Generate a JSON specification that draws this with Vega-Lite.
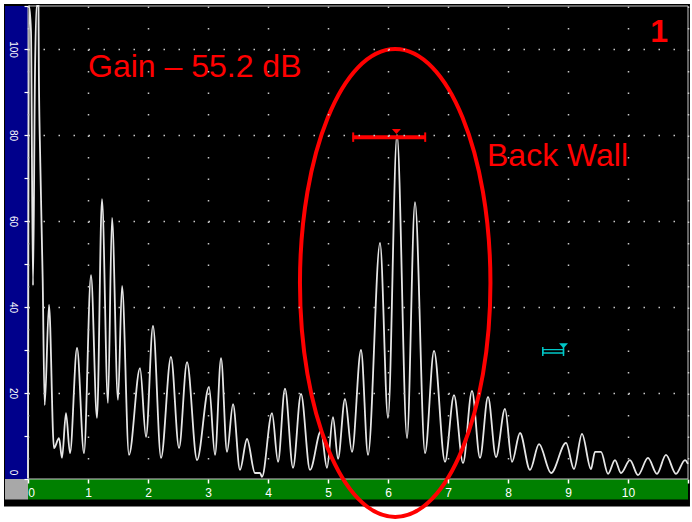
{
  "$schema": "https://vega.github.io/schema/vega-lite/v6.json",
  "width": 660,
  "height": 473,
  "autosize": {"type": "none"},
  "padding": {"left": 28, "top": 6, "right": 4, "bottom": 43},
  "background": "#ffffff",
  "config": {"view": {"stroke": null}},
  "data": {"values": [{}]},
  "datasets": {
    "ascan": [
      {"t": 0, "amp": 0.2}, {"t": 0.017, "amp": 110}, {"t": 0.05, "amp": 104}, {"t": 0.083, "amp": 45},
      {"t": 0.117, "amp": 95}, {"t": 0.142, "amp": 110}, {"t": 0.175, "amp": 110}, {"t": 0.18, "amp": 96.7},
      {"t": 0.205, "amp": 73.5}, {"t": 0.245, "amp": 46.3}, {"t": 0.278, "amp": 17.2}, {"t": 0.35, "amp": 40.5},
      {"t": 0.433, "amp": 7.2}, {"t": 0.517, "amp": 9.5}, {"t": 0.567, "amp": 4.9}, {"t": 0.633, "amp": 15.3},
      {"t": 0.7, "amp": 6}, {"t": 0.817, "amp": 30.5}, {"t": 0.933, "amp": 6}, {"t": 1.05, "amp": 47.4},
      {"t": 1.15, "amp": 14.2}, {"t": 1.233, "amp": 65.1}, {"t": 1.333, "amp": 17.7}, {"t": 1.4, "amp": 60.7},
      {"t": 1.5, "amp": 18.4}, {"t": 1.567, "amp": 44.9}, {"t": 1.683, "amp": 5.6}, {"t": 1.867, "amp": 25.8},
      {"t": 1.967, "amp": 9.8}, {"t": 2.083, "amp": 35.6}, {"t": 2.217, "amp": 4.9}, {"t": 2.383, "amp": 28.4},
      {"t": 2.517, "amp": 7.2}, {"t": 2.65, "amp": 27.2}, {"t": 2.817, "amp": 4.4}, {"t": 3.017, "amp": 21.4},
      {"t": 3.117, "amp": 5.6}, {"t": 3.217, "amp": 28.1}, {"t": 3.317, "amp": 6.3}, {"t": 3.417, "amp": 17.4},
      {"t": 3.533, "amp": 2.1}, {"t": 3.65, "amp": 9.3}, {"t": 3.783, "amp": 1.4}, {"t": 3.867, "amp": 1.4},
      {"t": 3.9, "amp": 0.5}, {"t": 4.067, "amp": 15.3}, {"t": 4.167, "amp": 4}, {"t": 4.283, "amp": 21},
      {"t": 4.417, "amp": 2.6}, {"t": 4.55, "amp": 19.8}, {"t": 4.7, "amp": 2.1}, {"t": 4.883, "amp": 11.2},
      {"t": 4.983, "amp": 2.6}, {"t": 5.083, "amp": 14.4}, {"t": 5.167, "amp": 4.7}, {"t": 5.283, "amp": 18.6},
      {"t": 5.4, "amp": 6.3}, {"t": 5.55, "amp": 30}, {"t": 5.667, "amp": 5.6}, {"t": 5.867, "amp": 54.9},
      {"t": 6.0, "amp": 14.2}, {"t": 6.15, "amp": 80}, {"t": 6.317, "amp": 9.5}, {"t": 6.45, "amp": 64.4},
      {"t": 6.617, "amp": 6}, {"t": 6.767, "amp": 29.8}, {"t": 6.95, "amp": 4}, {"t": 7.1, "amp": 19.5},
      {"t": 7.25, "amp": 3.7}, {"t": 7.4, "amp": 20.5}, {"t": 7.533, "amp": 4.9}, {"t": 7.667, "amp": 19.1},
      {"t": 7.8, "amp": 5.1}, {"t": 7.95, "amp": 16.3}, {"t": 8.067, "amp": 4}, {"t": 8.2, "amp": 10.7},
      {"t": 8.367, "amp": 2.1}, {"t": 8.517, "amp": 8.1}, {"t": 8.717, "amp": 1.4}, {"t": 8.967, "amp": 8.4},
      {"t": 9.1, "amp": 2.3}, {"t": 9.233, "amp": 10.5}, {"t": 9.383, "amp": 2.3}, {"t": 9.45, "amp": 6.3},
      {"t": 9.55, "amp": 6.3}, {"t": 9.667, "amp": 1.2}, {"t": 9.783, "amp": 4.4}, {"t": 9.883, "amp": 1.4},
      {"t": 10.033, "amp": 4.4}, {"t": 10.167, "amp": 0.9}, {"t": 10.333, "amp": 4.9}, {"t": 10.483, "amp": 1.2},
      {"t": 10.633, "amp": 5.6}, {"t": 10.8, "amp": 1.2}, {"t": 10.95, "amp": 4.4}, {"t": 11.0, "amp": 3.5}
    ]
  },
  "layer": [
    {
      "mark": {"type": "rect", "color": "#000000"},
      "encoding": {"x": {"datum": -0.4}, "x2": {"datum": 11.033}, "y": {"datum": -6.4}, "y2": {"datum": 110.47}}
    },
    {
      "mark": {"type": "rect", "color": "#00008b"},
      "encoding": {"x": {"datum": -0.383}, "x2": {"datum": 0}, "y": {"datum": 0}, "y2": {"datum": 110}}
    },
    {
      "mark": {"type": "rect", "color": "#008000"},
      "encoding": {"x": {"datum": 0}, "x2": {"datum": 11}, "y": {"datum": -4.77}, "y2": {"datum": 0}}
    },
    {
      "mark": {"type": "rect", "color": "#a8a8a8"},
      "encoding": {"x": {"datum": -0.383}, "x2": {"datum": 0}, "y": {"datum": -4.77}, "y2": {"datum": 0}}
    },
    {
      "mark": {"type": "rect", "filled": false, "color": "#c8c8c8", "strokeWidth": 1},
      "encoding": {"x": {"datum": 0}, "x2": {"datum": 11}, "y": {"datum": 0}, "y2": {"datum": 110}}
    },
    {
      "data": {"name": "ascan"},
      "mark": {"type": "line", "color": "#e6e6e6", "strokeWidth": 1.8, "interpolate": "monotone"},
      "encoding": {
        "x": {
          "field": "t", "type": "quantitative",
          "scale": {"domain": [0, 11], "nice": false, "zero": false},
          "axis": {
            "title": null, "domain": false, "zindex": 1,
            "values": [0,0.25,0.5,0.75,1,1.25,1.5,1.75,2,2.25,2.5,2.75,3,3.25,3.5,3.75,4,4.25,4.5,4.75,5,5.25,5.5,5.75,6,6.25,6.5,6.75,7,7.25,7.5,7.75,8,8.25,8.5,8.75,9,9.25,9.5,9.75,10,10.25,10.5,10.75,11],
            "grid": true, "gridColor": "#c8c8c8", "gridWidth": 1.5, "gridDash": [1.5, 20],
            "gridOpacity": {"condition": {"test": "datum.value % 1 === 0", "value": 1}, "value": 0},
            "tickColor": "#ffffff", "tickSize": 4, "tickWidth": 1.5,
            "labelExpr": "datum.value % 1 === 0 && datum.value < 11 ? format(datum.value, 'd') : ''",
            "labelColor": "#ffffff", "labelFont": "Liberation Sans", "labelFontSize": 12,
            "labelPadding": 9, "labelBaseline": "middle", "labelAngle": 0,
            "labelOffset": {"condition": {"test": "datum.value === 0", "value": 3}, "value": 0},
            "labelOverlap": false, "labelFlush": false
          }
        },
        "y": {
          "field": "amp", "type": "quantitative",
          "scale": {"domain": [0, 110], "nice": false},
          "axis": {
            "title": null, "domain": false, "zindex": 1,
            "values": [0,5,10,15,20,25,30,35,40,45,50,55,60,65,70,75,80,85,90,95,100,105,110],
            "grid": true, "gridColor": "#c8c8c8", "gridWidth": 1.5, "gridDash": [1.5, 13.5],
            "gridOpacity": {"condition": {"test": "datum.value % 20 === 0 && datum.value > 0", "value": 1}, "value": 0},
            "tickColor": "#ffffff", "tickSize": 4, "tickWidth": 1.2,
            "labelExpr": "datum.value % 20 === 0 ? format(datum.value, 'd') : ''",
            "labelColor": "#ffffff", "labelFont": "Liberation Sans", "labelFontSize": 10,
            "labelAngle": 90, "labelAlign": "center", "labelBaseline": "middle", "labelPadding": 12,
            "labelOffset": {"condition": {"test": "datum.value === 0", "value": -7}, "value": 0},
            "labelOverlap": false, "labelFlush": false
          }
        }
      }
    },
    {
      "mark": {
        "type": "point",
        "shape": "M0,-1C0.2248,-1 0.407,-0.5523 0.407,0C0.407,0.5523 0.2248,1 0,1C-0.2248,1 -0.407,0.5523 -0.407,0C-0.407,-0.5523 -0.2248,-1 0,-1Z",
        "size": 219024, "filled": false, "color": "#ff0000", "strokeWidth": 4, "opacity": 1
      },
      "encoding": {"x": {"datum": 6.12}, "y": {"datum": 45.6}}
    },
    {
      "mark": {"type": "rule", "color": "#ff0000", "strokeWidth": 4},
      "encoding": {"x": {"datum": 5.41}, "x2": {"datum": 6.63}, "y": {"datum": 79.5}}
    },
    {
      "mark": {"type": "rule", "color": "#ff0000", "strokeWidth": 2},
      "encoding": {"x": {"datum": 5.42}, "y": {"datum": 78.4}, "y2": {"datum": 80.6}}
    },
    {
      "mark": {"type": "rule", "color": "#ff0000", "strokeWidth": 2},
      "encoding": {"x": {"datum": 6.62}, "y": {"datum": 78.4}, "y2": {"datum": 80.6}}
    },
    {
      "mark": {"type": "point", "shape": "M-1,-0.55L1,-0.55L0,0.55Z", "size": 81, "filled": true, "color": "#ff0000", "opacity": 1, "strokeWidth": 0},
      "encoding": {"x": {"datum": 6.14}, "y": {"datum": 80.8}}
    },
    {
      "mark": {"type": "rect", "fill": "#000000", "stroke": "#00c8c8", "strokeWidth": 1.3},
      "encoding": {"x": {"datum": 8.58}, "x2": {"datum": 8.925}, "y": {"datum": 29.3}, "y2": {"datum": 30.1}}
    },
    {
      "mark": {"type": "rule", "color": "#00c8c8", "strokeWidth": 1.5},
      "encoding": {"x": {"datum": 8.58}, "y": {"datum": 28.6}, "y2": {"datum": 30.7}}
    },
    {
      "mark": {"type": "rule", "color": "#00c8c8", "strokeWidth": 1.5},
      "encoding": {"x": {"datum": 8.925}, "y": {"datum": 28.6}, "y2": {"datum": 30.7}}
    },
    {
      "mark": {"type": "point", "shape": "M-1,-0.55L1,-0.55L0,0.55Z", "size": 81, "filled": true, "color": "#00c8c8", "opacity": 1, "strokeWidth": 0},
      "encoding": {"x": {"datum": 8.925}, "y": {"datum": 31.0}}
    },
    {
      "mark": {"type": "text", "text": "Gain – 55.2 dB", "font": "Liberation Sans", "fontSize": 32, "color": "#ff0000", "align": "left", "baseline": "alphabetic"},
      "encoding": {"x": {"datum": 1.0}, "y": {"datum": 93.4}}
    },
    {
      "mark": {"type": "text", "text": "Back Wall", "font": "Liberation Sans", "fontSize": 32, "color": "#ff0000", "align": "left", "baseline": "alphabetic"},
      "encoding": {"x": {"datum": 7.65}, "y": {"datum": 72.7}}
    },
    {
      "mark": {"type": "text", "text": "1", "font": "Liberation Sans", "fontSize": 32, "fontWeight": "bold", "color": "#ff0000", "align": "center", "baseline": "alphabetic"},
      "encoding": {"x": {"datum": 10.52}, "y": {"datum": 101.7}}
    }
  ]
}
